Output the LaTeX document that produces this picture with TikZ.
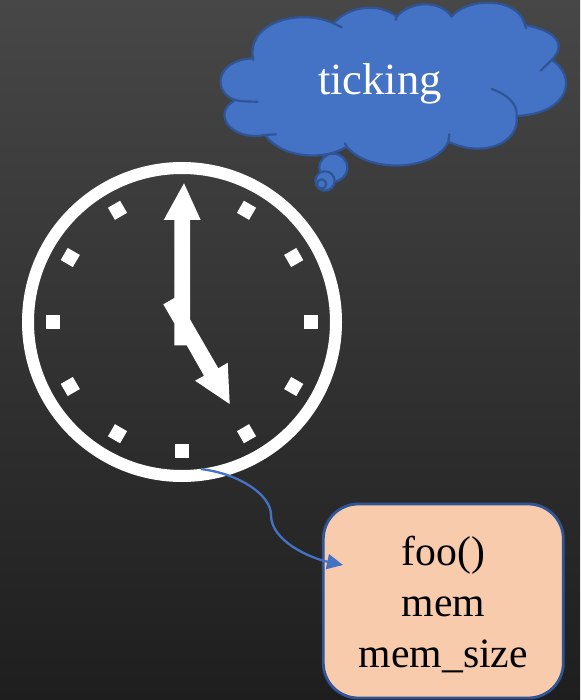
\documentclass[tikz,border=0pt]{standalone}
\usepackage{fontspec}
\setmainfont{Liberation Serif}
\usetikzlibrary{arrows.meta,calc}
\definecolor{cloudfill}{HTML}{4472C4}
\definecolor{cloudline}{HTML}{2F5597}
\definecolor{boxfill}{HTML}{F8CBAD}
\definecolor{bgtop}{HTML}{474747}
\definecolor{bgbot}{HTML}{1E1E1E}
\tikzset{
  cloudshape/.style={fill=cloudfill,draw=cloudline,line width=2.2pt,line join=round},
  cloudcrease/.style={draw=cloudline,line width=2.2pt,line cap=round},
  tickmark/.style={fill=white,minimum size=14pt,inner sep=0pt,outer sep=0pt,shape=rectangle},
  handshape/.style={fill=white},
  link/.style={draw=cloudfill,line width=2.3pt,-{Triangle[length=16pt,width=15pt]}},
}
\begin{document}
\begin{tikzpicture}[x=1pt,y=-1pt]
\useasboundingbox (0,0) rectangle (580,700);
\shade[top color=bgtop,bottom color=bgbot] (0,0) rectangle (580,700);

% thought cloud (coordinates taken in a 3x grid)
\begin{scope}[xshift=210pt,x=0.3333pt,y=-0.3333pt]
\draw[cloudshape] (130,180)
  .. controls (105,70) and (265,22) .. (370,70)
  .. controls (420,15) and (510,8) .. (560,50)
  .. controls (600,3) and (690,-2) .. (725,50)
  .. controls (770,-8) and (925,-12) .. (945,75)
  .. controls (1030,90) and (1075,130) .. (1025,180)
  .. controls (1100,225) and (1085,340) .. (920,348)
  .. controls (930,430) and (820,475) .. (715,425)
  .. controls (680,510) and (480,525) .. (410,440)
  .. controls (350,480) and (220,480) .. (165,405)
  .. controls (70,425) and (0,345) .. (75,300)
  .. controls (10,280) and (10,180) .. (130,175) -- cycle;
\draw[cloudcrease] (370,70) -- (395,82);
\draw[cloudcrease] (560,50) -- (557,60);
\draw[cloudcrease] (945,75) -- (948,85);
\draw[cloudcrease] (1025,180) -- (992,212);
\draw[cloudcrease] (920,348) .. controls (925,310) and (885,280) .. (845,267);
\draw[cloudcrease] (715,425) -- (718,403);
\draw[cloudcrease] (410,440) -- (405,430);
\draw[cloudcrease] (165,405) -- (197,403);
\draw[cloudcrease] (75,300) .. controls (95,305) and (120,305) .. (143,305);
\draw[cloudshape] (370,503) circle (42);
\draw[cloudshape] (345,543) circle (29);
\draw[cloudshape] (335,552) circle (14);
\end{scope}
\node[text=white,font=\fontsize{44.6}{50}\selectfont] (cloudtext) at (380,84) {ticking};

% clock
\node[circle,draw=white,line width=12pt,minimum size=308pt,inner sep=0pt,outer sep=0pt] (clock) at (182,322) {};
\foreach \a in {0,30,60,120,150,180,210,240,270,300,330}
  \node[tickmark,rotate=\a] (t\a) at ($(clock.center)+(\a:129pt)$) {};
\fill[handshape] (184,183.3) -- (200.7,220) -- (190,220) -- (190,319.3)
  -- (218.3,368.3) -- (227.7,362.7) -- (229.7,404) -- (195,380.7) -- (204,375.7)
  -- (186.7,345.3) -- (174.3,345.3) -- (174.3,323.3) -- (163.3,304.3) -- (174.3,298)
  -- (174.3,220) -- (163.7,220) -- cycle;

% member box
\node[rounded corners=35pt,fill=boxfill,draw=cloudline,line width=2.8pt,
      minimum width=240pt,minimum height=194pt,inner sep=0pt] (members) at (443.3,601) {};
\node[align=center,inner sep=0pt,font=\fontsize{41.7}{51}\selectfont] (memberstext) at (443.3,604.5) {foo()\\mem\\mem\_size};

% connector
\coordinate (linkstart) at (201,469);
\coordinate (linkmid) at (271,515);
\coordinate (linkend) at (343,565);
\draw[link] (linkstart) .. controls (240,474) and (271,495) .. (linkmid)
  .. controls (271,541) and (310,558) .. (linkend);
\end{tikzpicture}
\end{document}
